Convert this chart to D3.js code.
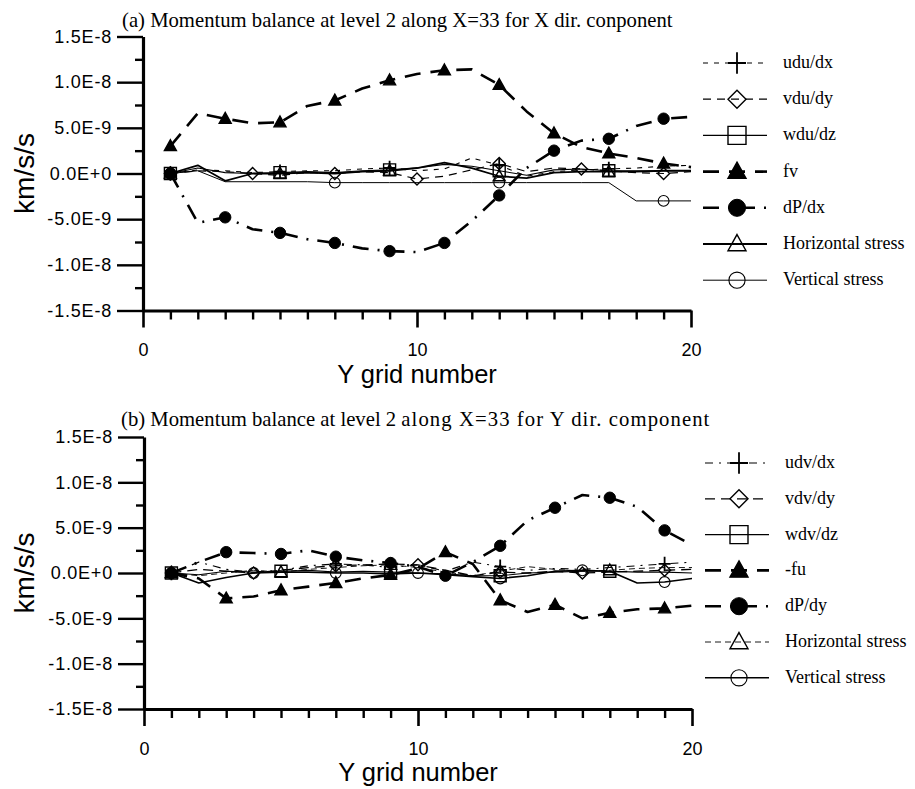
<!DOCTYPE html>
<html>
<head>
<meta charset="utf-8">
<script src="https://cdn.jsdelivr.net/npm/d3@7"></script>
<style>
  body { margin: 0; background: #fff; }
  svg { display: block; background: #fff; }
  .tick text { font-family: "Liberation Sans", Arial, sans-serif; font-size: 18px; letter-spacing: 0.8px; fill: #000; }
  .ttl { font-family: "Liberation Serif", "Times New Roman", serif; fill: #000; }
  .lgd { font-family: "Liberation Serif", "Times New Roman", serif; font-size: 18px; fill: #000; }
  .axt { font-family: "Liberation Sans", Arial, sans-serif; fill: #000; }
</style>
</head>
<body>
<svg id="chart" width="915" height="789"></svg>
<script>
// Y grid number (x axis of both panels)
const gridY = [1, 2, 3, 4, 5, 6, 7, 8, 9, 10, 11, 12, 13, 14, 15, 16, 17, 18, 19, 20];

// values below are in units of 1E-9 km/s/s
const unit = 1e-9;

// (a) X direction component
const uduDx = [0, 0.4, 0.3, 0.1, 0.2, 0.3, 0.3, 0.5, 0.6, 0.3, 0.5, 1.7, 0.9, -0.3, 0.2, 0.4, 0.5, 0.6, 0.8, 0.9];
const vduDy = [0, 0.3, 0.2, 0.0, -0.2, 0.1, 0.0, 0.2, 0.1, -0.6, -0.3, 0.4, 1.1, 0.2, 0.6, 0.5, 0.3, 0.1, 0.0, 0.2];
const wduDz = [0, 0.6, 0.1, 0.0, 0.1, 0.2, 0.1, 0.3, 0.4, 0.6, 1.0, 0.8, 0.3, -0.2, 0.4, 0.5, 0.3, 0.3, 0.3, 0.3];
const fv = [3.0, 6.6, 6.0, 5.5, 5.6, 7.4, 8.0, 9.3, 10.2, 10.9, 11.3, 11.4, 9.7, 6.8, 4.4, 2.9, 2.2, 1.7, 1.1, 0.7];
const dPdx = [0, -5.4, -4.8, -6.1, -6.5, -7.2, -7.6, -8.2, -8.5, -8.6, -7.6, -5.2, -2.4, 0.6, 2.5, 3.6, 3.8, 5.2, 6.0, 6.2];
const hStressA = [0, 0.9, -0.8, 0.0, 0.0, 0.1, 0.0, 0.2, 0.3, 0.6, 1.2, 0.6, -0.3, -0.5, 0.1, 0.2, 0.2, 0.2, 0.3, 0.3];
const vStressA = [0, 0.3, -0.9, -0.9, -0.9, -0.9, -1.0, -1.0, -1.0, -1.0, -1.0, -1.0, -1.0, -1.0, -1.0, -1.0, -1.0, -3.0, -3.0, -3.0];

// (b) Y direction component
const udvDx = [0, 1.2, 0.4, 0.1, 0.3, 0.8, 1.0, 0.9, 0.6, 0.9, 0.2, 1.2, 0.7, 0.3, 0.5, 0.4, 0.6, 0.8, 1.0, 1.2];
const vdvDy = [0, 0.4, 0.2, 0.0, 0.3, 0.6, 0.8, 0.9, 1.0, 0.9, 0.3, -0.3, 0.1, 0.0, 0.2, 0.0, 0.1, 0.2, 0.3, 0.4];
const wdvDz = [0, -0.2, 0.2, 0.1, 0.2, 0.3, 0.1, 0.2, 0.1, 0.0, -0.1, -0.3, -0.3, 0.0, 0.1, 0.2, 0.2, 0.1, 0.1, 0.0];
const minusFu = [0, -0.6, -2.8, -2.6, -1.9, -1.5, -1.1, -0.6, -0.2, 0.5, 2.3, 1.0, -3.0, -4.3, -3.5, -5.0, -4.4, -4.0, -3.9, -3.6];
const dPdy = [0, 1.2, 2.3, 2.2, 2.1, 2.5, 1.8, 1.4, 1.1, 0.7, -0.3, 1.2, 3.0, 5.8, 7.2, 8.6, 8.3, 7.3, 4.7, 3.1];
const hStressB = [0, -0.3, 0.0, 0.3, 0.1, 0.4, 0.6, 0.8, 0.9, 0.6, 0.1, -0.3, 0.2, 0.7, 0.4, 0.2, 0.3, 0.5, 0.6, 0.6];
const vStressB = [0, -1.1, -0.5, 0.0, 0.1, 0.1, 0.0, 0.0, -0.1, 0.0, -0.2, -0.4, -0.6, -0.3, 0.2, 0.3, 0.2, -1.1, -1.0, -0.6];

// axes
const xDomain = [0, 20];
const yDomain = [-15, 15];
const xMajorTicks = [0, 10, 20];
const xMinorTicks = [1, 2, 3, 4, 5, 6, 7, 8, 9, 11, 12, 13, 14, 15, 16, 17, 18, 19];
const yMajorTicks = [-15, -10, -5, 0, 5, 10, 15];
const yMinorTicks = [-12.5, -7.5, -2.5, 2.5, 7.5, 12.5];

const titleA = "(a) Momentum balance at level 2 along X=33 for X dir. conponent";
const titleB1 = "(b) Momentum balance at level 2 ";
const titleB2 = "along X=33 for Y dir. component";

const seriesA = [
  { name: "udu/dx", values: uduDx, marker: "plus", every: 4, dash: "5,6", width: 1.1 },
  { name: "vdu/dy", values: vduDy, marker: "diamond", every: 3, dash: "8,6", width: 1.2 },
  { name: "wdu/dz", values: wduDz, marker: "square", every: 4, dash: null, width: 1.1 },
  { name: "fv", values: fv, marker: "triangle", filled: true, every: 2, dash: "16,10", width: 2.6 },
  { name: "dP/dx", values: dPdx, marker: "circle", filled: true, every: 2, dash: "16,9,2,9", width: 2.6 },
  { name: "Horizontal stress", values: hStressA, marker: "triangle", every: 4, dash: null, width: 1.8 },
  { name: "Vertical stress", values: vStressA, marker: "circle", every: 6, dash: null, width: 1.0 }
];

const seriesB = [
  { name: "udv/dx", values: udvDx, marker: "plus", every: 6, dash: "8,6,2,6", width: 1.1 },
  { name: "vdv/dy", values: vdvDy, marker: "diamond", every: 3, dash: "10,6", width: 1.3 },
  { name: "wdv/dz", values: wdvDz, marker: "square", every: 4, dash: null, width: 1.1 },
  { name: "-fu", values: minusFu, marker: "triangle", filled: true, every: 2, dash: "16,10", width: 2.6 },
  { name: "dP/dy", values: dPdy, marker: "circle", filled: true, every: 2, dash: "16,9,2,9", width: 2.6 },
  { name: "Horizontal stress", values: hStressB, marker: "triangle", every: 4, dash: "6,4", width: 0.9 },
  { name: "Vertical stress", values: vStressB, marker: "circle", every: 3, dash: null, width: 1.6 }
];

const panels = [
  { series: seriesA, left: 143, right: 691, top: 36.5, bottom: 310.5,
    titleY: 27, legendX: 703, legendTop: 63, legendStep: 36.2 },
  { series: seriesB, left: 144, right: 692, top: 437, bottom: 709,
    titleY: 426, legendX: 705, legendTop: 463, legendStep: 35.8 }
];

const svg = d3.select("#chart");

function fmtE(d) {
  return d3.format(".1e")(d * unit).replace("e", "E").replace("\u2212", "-");
}

// marker shapes, s = half size
function markerPath(type, s) {
  if (type === "triangle") return `M0,${-s * 1.05}L${s},${s * 0.75}L${-s},${s * 0.75}Z`;
  if (type === "square") return `M${-s},${-s}H${s}V${s}H${-s}Z`;
  if (type === "diamond") return `M0,${-s}L${s},0L0,${s}L${-s},0Z`;
  if (type === "plus") return `M${-s},0H${s}M0,${-s * 1.2}V${s * 1.2}`;
  return null;
}

function drawMarker(g, s, cx, cy, size) {
  const fill = s.filled ? "#000" : "none";
  if (s.marker === "circle") {
    g.append("circle").attr("cx", cx).attr("cy", cy)
      .attr("r", s.filled ? size * 0.95 : size * 0.9)
      .attr("fill", fill).attr("stroke", "#000").attr("stroke-width", s.filled ? 1 : 1.1);
  } else {
    g.append("path").attr("transform", `translate(${cx},${cy})`)
      .attr("d", markerPath(s.marker, size))
      .attr("fill", fill).attr("stroke", "#000")
      .attr("stroke-width", s.marker === "plus" ? 1.8 : 1.4);
  }
}

function drawPanel(g, p) {
  const x = d3.scaleLinear().domain(xDomain).range([p.left, p.right]);
  const y = d3.scaleLinear().domain(yDomain).range([p.bottom, p.top]);

  // y axis
  g.append("g").attr("transform", `translate(${p.left},0)`)
    .call(d3.axisLeft(y).tickValues(yMinorTicks).tickSize(8).tickSizeOuter(0).tickFormat(""))
    .call(a => a.select(".domain").remove())
    .selectAll("line").attr("stroke-width", 2.4);
  const ya = g.append("g").attr("transform", `translate(${p.left},0)`)
    .call(d3.axisLeft(y).tickValues(yMajorTicks).tickSize(26).tickSizeOuter(0).tickPadding(5).tickFormat(fmtE));
  ya.selectAll("line").attr("stroke-width", 2.4);
  ya.select(".domain").attr("stroke-width", 3.2);

  // x axis
  g.append("g").attr("transform", `translate(0,${p.bottom})`)
    .call(d3.axisBottom(x).tickValues(xMinorTicks).tickSize(9).tickSizeOuter(0).tickFormat(""))
    .call(a => a.select(".domain").remove())
    .selectAll("line").attr("stroke-width", 2.4);
  const xa = g.append("g").attr("transform", `translate(0,${p.bottom})`)
    .call(d3.axisBottom(x).tickValues(xMajorTicks).tickSize(17).tickSizeOuter(0).tickPadding(16).tickFormat(d3.format("d")));
  xa.selectAll("line").attr("stroke-width", 2.6);
  xa.select(".domain").attr("stroke-width", 3.2);
  xa.selectAll("text").style("letter-spacing", "0px");

  // axis titles
  g.append("text").attr("class", "axt")
    .attr("x", (p.left + p.right) / 2).attr("y", p.bottom + 72)
    .attr("text-anchor", "middle").attr("font-size", 25.5).text("Y grid number");
  g.append("text").attr("class", "axt")
    .attr("transform", `translate(34,${y(0)}) rotate(-90)`)
    .attr("text-anchor", "middle").attr("font-size", 28).text("km/s/s");

  // series
  const line = d3.line().x((d, i) => x(gridY[i])).y(d => y(d));
  const plot = g.append("g");
  p.series.forEach(s => {
    plot.append("path").attr("d", line(s.values))
      .attr("fill", "none").attr("stroke", "#000")
      .attr("stroke-width", s.width)
      .attr("stroke-dasharray", s.dash)
      .attr("stroke-linejoin", "round");
  });
  p.series.forEach(s => {
    s.values.forEach((v, i) => {
      if (i % s.every === 0) drawMarker(plot, s, x(gridY[i]), y(v), 6);
    });
  });

  // legend
  const lg = g.append("g");
  p.series.forEach((s, k) => {
    const ly = p.legendTop + k * p.legendStep;
    lg.append("line").attr("x1", p.legendX).attr("x2", p.legendX + 64)
      .attr("y1", ly).attr("y2", ly)
      .attr("stroke", "#000").attr("stroke-width", s.width)
      .attr("stroke-dasharray", s.dash);
    drawMarker(lg, s, p.legendX + 34, ly, 9);
    lg.append("text").attr("class", "lgd")
      .attr("x", p.legendX + 80).attr("y", ly + 5).text(s.name);
  });
}

panels.forEach(p => drawPanel(svg.append("g"), p));

// titles
svg.append("text").attr("class", "ttl").attr("x", 122).attr("y", panels[0].titleY)
  .attr("font-size", 20.7).text(titleA);
const tb = svg.append("text").attr("class", "ttl").attr("x", 121).attr("y", panels[1].titleY)
  .attr("font-size", 20.7);
tb.append("tspan").text(titleB1);
tb.append("tspan").attr("textLength", 308).attr("lengthAdjust", "spacing").text(titleB2);
</script>
</body>
</html>
